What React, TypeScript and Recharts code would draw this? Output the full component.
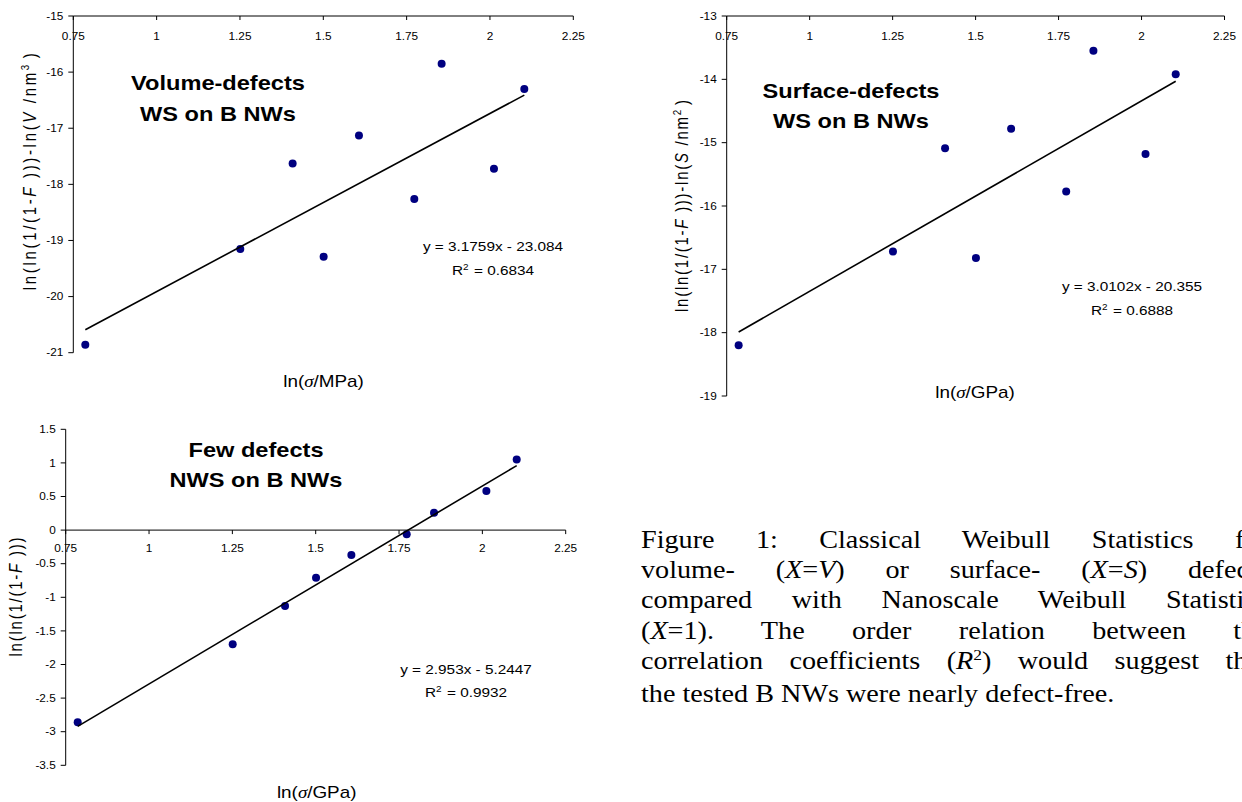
import React from 'react';
import { ScatterChart, Scatter, XAxis, YAxis, ReferenceLine, ReferenceDot } from 'recharts';

// ---- data ----
const lnSigma = [0.786, 1.251, 1.408, 1.501, 1.607, 1.773, 1.855, 2.012, 2.103];
const volumeDefects = [-20.86, -19.15, -17.63, -19.29, -17.13, -18.26, -15.85, -17.72, -16.3];
const surfaceDefects = [-18.2, -16.72, -15.09, -16.82, -14.78, -15.77, -13.55, -15.18, -13.92];
const fewDefects = [-2.86, -1.7, -1.13, -0.71, -0.37, -0.06, 0.26, 0.58, 1.05];

const trendX = [0.786, 2.103];
const volumeTrendY = [-20.59, -16.41];
const surfaceTrendY = [-17.99, -14.03];
const fewTrendY = [-2.92, 0.96];

const xTicks = [0.75, 1, 1.25, 1.5, 1.75, 2, 2.25];
const volumeTicks = [-21, -20, -19, -18, -17, -16, -15];
const surfaceTicks = [-19, -18, -17, -16, -15, -14, -13];
const fewTicks = [-3.5, -3, -2.5, -2, -1.5, -1, -0.5, 0, 0.5, 1, 1.5];

const toPts = (xs: number[], ys: number[]) => xs.map((x, i) => ({ x, y: ys[i] }));
const volumePts = toPts(lnSigma, volumeDefects);
const surfacePts = toPts(lnSigma, surfaceDefects);
const fewPts = toPts(lnSigma, fewDefects);
const volumeTrend = toPts(trendX, volumeTrendY);
const surfaceTrend = toPts(trendX, surfaceTrendY);
const fewTrend = toPts(trendX, fewTrendY);

// ---- styles ----
const SX = 1.18;
const SANS = '"Liberation Sans", Arial, Helvetica, sans-serif';
const SERIF = '"Liberation Serif", "Times New Roman", serif';
const DOT = '#000080';

const XTickBelow = (props: any) => {
  const { x, y, payload } = props;
  return (
    <g transform={`translate(${x},${y}) scale(${SX},1)`}>
      <text x={0} y={0} dy="0.72em" textAnchor="middle" fontSize={10} fontFamily={SANS} fill="#000">
        {String(payload.value)}
      </text>
    </g>
  );
};

const YTickLeft = (props: any) => {
  const { x, y, payload } = props;
  return (
    <g transform={`translate(${x},${y}) scale(${SX},1)`}>
      <text x={0} y={0} dy="0.36em" textAnchor="end" fontSize={10} fontFamily={SANS} fill="#000">
        {String(payload.value)}
      </text>
    </g>
  );
};

const zeroAxisTick = (label: string) => (p: any) => (
  <g>
    <line x1={p.cx} y1={p.cy} x2={p.cx} y2={p.cy + 4} stroke="#000" strokeWidth={1} />
    <g transform={`translate(${p.cx},${p.cy + 14.7}) scale(${SX},1)`}>
      <text x={0} y={0} dy="0.72em" textAnchor="middle" fontSize={10} fontFamily={SANS} fill="#000">
        {label}
      </text>
    </g>
  </g>
);

const dotShape = (p: any) => <circle cx={p.cx} cy={p.cy} r={4} fill={DOT} />;
const noShape = () => <g />;

const axisStroke = { stroke: '#000', strokeWidth: 1 };

function STxt(props: { x: number; y: number; size: number; bold?: boolean; children: React.ReactNode }) {
  const { x, y, size, bold, children } = props;
  return (
    <g transform={`translate(${x},${y}) scale(${SX},1)`}>
      <text x={0} y={0} textAnchor="middle" fontSize={size} fontWeight={bold ? 'bold' : 'normal'} fontFamily={SANS} fill="#000">
        {children}
      </text>
    </g>
  );
}

function VTxt(props: { x: number; y: number; size: number; len: number; children: React.ReactNode }) {
  const { x, y, size, len, children } = props;
  return (
    <g transform={`translate(${x},${y}) scale(${SX},1) rotate(-90)`}>
      <text x={0} y={0} textAnchor="middle" fontSize={size} fontFamily={SANS} fill="#000" textLength={len} lengthAdjust="spacing">
        {children}
      </text>
    </g>
  );
}

const Sup = ({ c, size }: { c: string; size: number }) => (
  <>
    <tspan dy={-size * 0.4} fontSize={size * 0.65}>{c}</tspan>
    <tspan dy={size * 0.4}>{'\u200A'}</tspan>
  </>
);

const Sigma = () => <tspan fontFamily={SERIF} fontStyle="italic">σ</tspan>;

const justify: React.CSSProperties = { textAlign: 'justify', textAlignLast: 'justify', whiteSpace: 'nowrap' };

export default function App() {
  return (
    <div style={{ position: 'absolute', left: 0, top: 0, width: 1242, height: 802, overflow: 'hidden', background: '#fff' }}>
      {/* Chart 1: volume defects */}
      <div style={{ position: 'absolute', left: 0, top: 0 }}>
        <ScatterChart width={620} height={410} margin={{ top: 16, left: 13.3, right: 46.7, bottom: 57.3 }}>
          <XAxis type="number" dataKey="x" domain={[0.75, 2.25]} ticks={xTicks} interval={0} orientation="top" mirror
            tickSize={4} tickMargin={12.3} tick={XTickBelow} axisLine={axisStroke} tickLine={axisStroke} />
          <YAxis type="number" dataKey="y" domain={[-21, -15]} ticks={volumeTicks} interval={0} width={60}
            tickSize={5} tickMargin={5} tick={YTickLeft} axisLine={axisStroke} tickLine={axisStroke} />
          <Scatter data={volumePts} shape={dotShape} isAnimationActive={false} />
          <Scatter data={volumeTrend} shape={noShape} line={{ stroke: '#000', strokeWidth: 1.6 }} isAnimationActive={false} />
        </ScatterChart>
      </div>

      {/* Chart 2: surface defects */}
      <div style={{ position: 'absolute', left: 660, top: 0 }}>
        <ScatterChart width={600} height={420} margin={{ top: 16, left: 6.7, right: 35.5, bottom: 24 }}>
          <XAxis type="number" dataKey="x" domain={[0.75, 2.25]} ticks={xTicks} interval={0} orientation="top" mirror
            tickSize={4} tickMargin={12.3} tick={XTickBelow} axisLine={axisStroke} tickLine={axisStroke} />
          <YAxis type="number" dataKey="y" domain={[-19, -13]} ticks={surfaceTicks} interval={0} width={60}
            tickSize={5} tickMargin={5} tick={YTickLeft} axisLine={axisStroke} tickLine={axisStroke} />
          <Scatter data={surfacePts} shape={dotShape} isAnimationActive={false} />
          <Scatter data={surfaceTrend} shape={noShape} line={{ stroke: '#000', strokeWidth: 1.6 }} isAnimationActive={false} />
        </ScatterChart>
      </div>

      {/* Chart 3: few defects (NWS) */}
      <div style={{ position: 'absolute', left: 0, top: 410 }}>
        <ScatterChart width={600} height={392} margin={{ top: 19.3, left: 5.7, right: 34.3, bottom: 36.7 }}>
          <XAxis type="number" dataKey="x" domain={[0.75, 2.25]} ticks={xTicks} hide />
          <YAxis type="number" dataKey="y" domain={[-3.5, 1.5]} ticks={fewTicks} interval={0} width={60}
            tickSize={5} tickMargin={5} tick={YTickLeft} axisLine={axisStroke} tickLine={axisStroke} />
          <ReferenceLine y={0} stroke="#000" strokeWidth={1} />
          {xTicks.map((t) => (
            <ReferenceDot key={t} x={t} y={0} r={1} ifOverflow="visible" shape={zeroAxisTick(String(t))} />
          ))}
          <Scatter data={fewPts} shape={dotShape} isAnimationActive={false} />
          <Scatter data={fewTrend} shape={noShape} line={{ stroke: '#000', strokeWidth: 1.6 }} isAnimationActive={false} />
        </ScatterChart>
      </div>

      {/* annotations */}
      <svg width={1242} height={802} style={{ position: 'absolute', left: 0, top: 0, pointerEvents: 'none' }}>
        {/* chart 1 */}
        <STxt x={218} y={90} size={20} bold>Volume-defects</STxt>
        <STxt x={218} y={120.7} size={20} bold>WS on B NWs</STxt>
        <STxt x={493} y={250.7} size={13}>y = 3.1759x - 23.084</STxt>
        <STxt x={493} y={275} size={13}>R<Sup c="2" size={13} /> = 0.6834</STxt>
        <STxt x={323.5} y={386.7} size={16}>ln(<Sigma />/MPa)</STxt>
        <VTxt x={36} y={171.7} size={15} len={237}>
          ln(ln(1/(1-<tspan fontStyle="italic">F</tspan> )))-ln(<tspan fontStyle="italic">V</tspan> /nm<Sup c="3" size={15} />)
        </VTxt>

        {/* chart 2 */}
        <STxt x={851} y={98.3} size={20} bold>Surface-defects</STxt>
        <STxt x={851} y={128.3} size={20} bold>WS on B NWs</STxt>
        <STxt x={1132} y={291} size={13}>y = 3.0102x - 20.355</STxt>
        <STxt x={1132} y={314.7} size={13}>R<Sup c="2" size={13} /> = 0.6888</STxt>
        <STxt x={975} y={398} size={16}>ln(<Sigma />/GPa)</STxt>
        <VTxt x={688} y={206} size={15} len={212}>
          ln(ln(1/(1-<tspan fontStyle="italic">F</tspan> )))-ln(<tspan fontStyle="italic">S</tspan> /nm<Sup c="2" size={15} />)
        </VTxt>

        {/* chart 3 */}
        <STxt x={256} y={456.7} size={20} bold>Few defects</STxt>
        <STxt x={256} y={486.7} size={20} bold>NWS on B NWs</STxt>
        <STxt x={466} y={674.3} size={13}>y = 2.953x - 5.2447</STxt>
        <STxt x={466} y={697.3} size={13}>R<Sup c="2" size={13} /> = 0.9932</STxt>
        <STxt x={316.7} y={798} size={16}>ln(<Sigma />/GPa)</STxt>
        <VTxt x={22} y={597} size={15} len={119}>
          ln(ln(1/(1-<tspan fontStyle="italic">F</tspan> )))
        </VTxt>
      </svg>

      {/* caption (clipped at the right edge, as in the reference) */}
      <div
        style={{
          position: 'absolute', left: 641, top: 525, width: 545, transform: 'scaleX(1.15)', transformOrigin: '0 0',
          fontFamily: SERIF, fontSize: 24.5, lineHeight: '30.2px', color: '#000',
        }}
      >
        <div style={justify}>Figure 1: Classical Weibull Statistics for</div>
        <div style={justify}>volume- (<i>X</i>=<i>V</i>) or surface- (<i>X</i>=<i>S</i>) defects</div>
        <div style={justify}>compared with Nanoscale Weibull Statistics</div>
        <div style={justify}>(<i>X</i>=1). The order relation between the</div>
        <div style={justify}>
          correlation coefficients (<i>R</i><span style={{ fontSize: '0.62em', position: 'relative', top: '-0.6em' }}>2</span>) would suggest that
        </div>
        <div style={{ whiteSpace: 'nowrap' }}>the tested B NWs were nearly defect-free.</div>
      </div>
    </div>
  );
}
